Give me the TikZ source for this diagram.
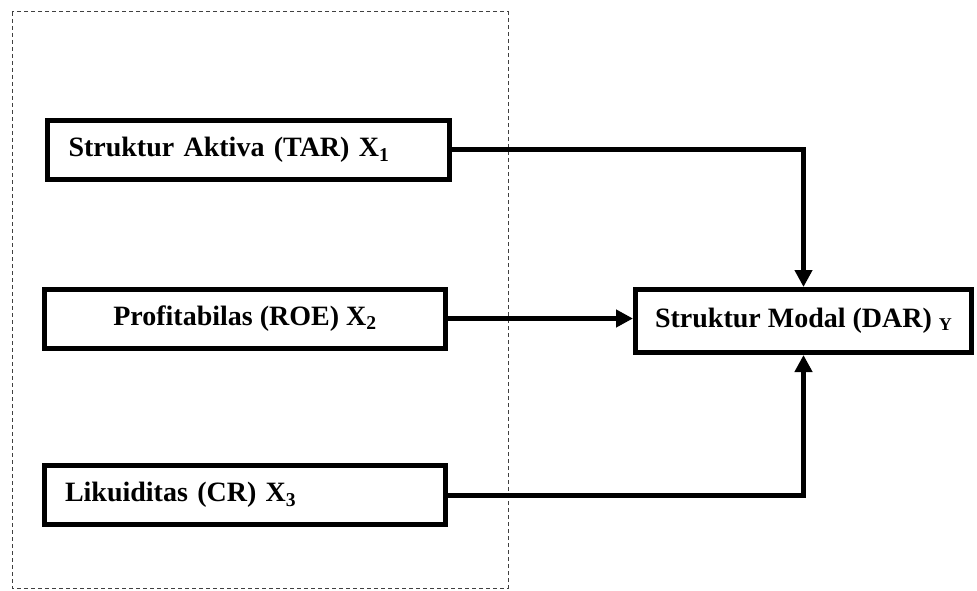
\documentclass[tikz,border=0pt]{standalone}
\usepackage{fontspec}
\setmainfont{Liberation Serif}
\usetikzlibrary{arrows.meta}
\begin{document}
\begin{tikzpicture}[x=1pt,y=-1pt,
  varbox/.style={draw=black, line width=5pt, fill=white, inner sep=0pt, minimum height=59pt,
    font=\fontsize{28}{33}\selectfont\bfseries},
  conn/.style={line width=5pt, -{Triangle[length=17pt,width=17pt]}},
  bound/.style={draw=black!75, line width=1pt, dash pattern=on 4pt off 3pt}]
\useasboundingbox (0,0) rectangle (977,591);
\fill[white] (0,0) rectangle (977,591);
\draw[bound] (12,12) rectangle (508,588);
\node[varbox, minimum width=402pt, text width=360pt, align=left] (b1) at (248.5,150) {Struktur Aktiva (TAR) X\textsubscript{1}};
\node[varbox, minimum width=401pt] (b2) at (245,318.5) {Profitabilas (ROE) X\textsubscript{2}};
\node[varbox, minimum width=401pt, text width=360pt, align=left] (b3) at (245,495) {Likuiditas (CR) X\textsubscript{3}};
\node[varbox, minimum width=336pt, minimum height=63pt] (y) at (803.5,321) {Struktur Modal (DAR) {\fontsize{18}{18}\selectfont\raisebox{-3pt}{Y}}};
\draw[conn] (b1.east) -| (y.north);
\draw[conn] (b2.east) -- (b2.east -| y.west);
\draw[conn] (b3.east) -| (y.south);
\end{tikzpicture}
\end{document}
